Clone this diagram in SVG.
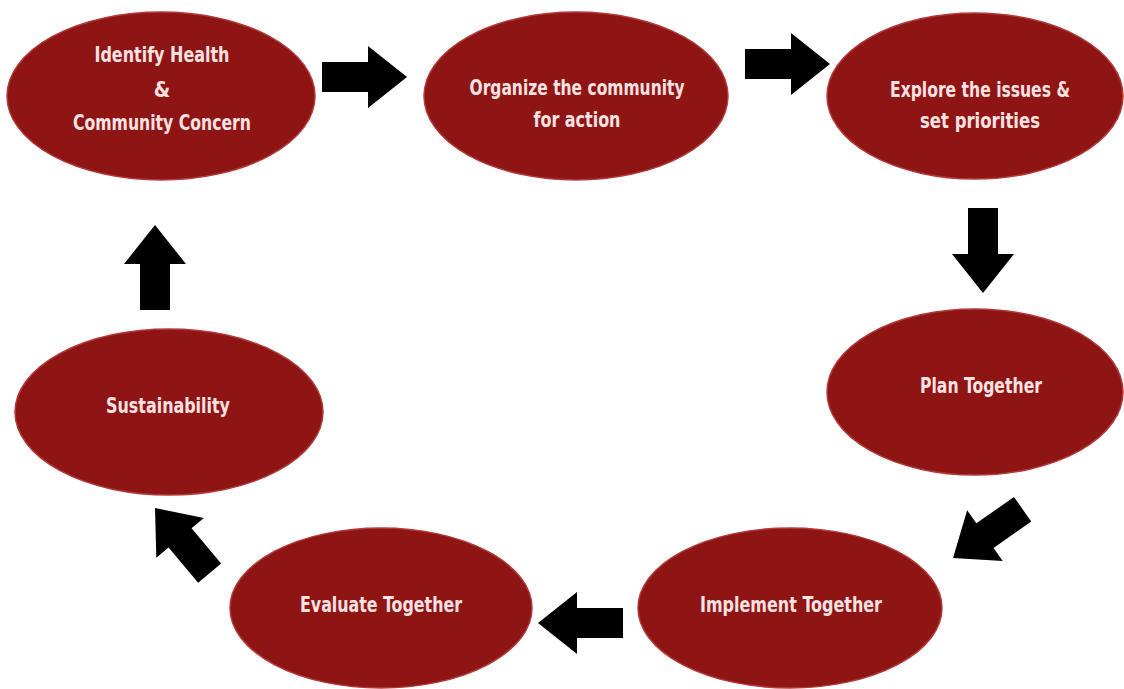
<svg xmlns="http://www.w3.org/2000/svg" xmlns:xlink="http://www.w3.org/1999/xlink" width="1124" height="689" viewBox="0 0 1124 689">
  <style>
    .node { fill: #8f1515; stroke: #b23a3a; stroke-width: 1.5; }
    .lbl { font-family: "DejaVu Sans Condensed", "DejaVu Sans", sans-serif; font-weight: bold; font-size: 21px; fill: #fbe2e2; text-anchor: middle; }
    .arr { fill: #000000; }
  </style>
  <defs>
    <path id="arrow" d="M0,0 L-39,-31 L-39,-15 L-85,-15 L-85,15 L-39,15 L-39,31 Z"/>
  </defs>
  <rect width="1124" height="689" fill="#ffffff"/>

  <g id="connectors" class="arr">
    <use xlink:href="#arrow" href="#arrow" transform="translate(407,77)"/>
    <use xlink:href="#arrow" href="#arrow" transform="translate(830,64)"/>
    <use xlink:href="#arrow" href="#arrow" transform="translate(983,293) rotate(90)"/>
    <use xlink:href="#arrow" href="#arrow" transform="translate(953,558) rotate(145)"/>
    <use xlink:href="#arrow" href="#arrow" transform="translate(538,623) rotate(180)"/>
    <use xlink:href="#arrow" href="#arrow" transform="translate(155,508) rotate(230)"/>
    <use xlink:href="#arrow" href="#arrow" transform="translate(155,225) rotate(-90)"/>
  </g>

  <g id="node-identify">
    <ellipse class="node" cx="161" cy="96" rx="154" ry="84"/>
    <text class="lbl" x="162" y="62" textLength="135" lengthAdjust="spacingAndGlyphs">Identify Health</text>
    <text class="lbl" x="162" y="97">&amp;</text>
    <text class="lbl" x="162" y="130" textLength="178" lengthAdjust="spacingAndGlyphs">Community Concern</text>
  </g>

  <g id="node-organize">
    <ellipse class="node" cx="576" cy="96" rx="152" ry="84"/>
    <text class="lbl" x="577" y="95" textLength="215" lengthAdjust="spacingAndGlyphs">Organize the community</text>
    <text class="lbl" x="577" y="127" textLength="87" lengthAdjust="spacingAndGlyphs">for action</text>
  </g>

  <g id="node-explore">
    <ellipse class="node" cx="975" cy="96" rx="148" ry="83"/>
    <text class="lbl" x="980" y="97" textLength="180" lengthAdjust="spacingAndGlyphs">Explore the issues &amp;</text>
    <text class="lbl" x="980" y="128" textLength="120" lengthAdjust="spacingAndGlyphs">set priorities</text>
  </g>

  <g id="node-plan">
    <ellipse class="node" cx="975" cy="392" rx="148" ry="83"/>
    <text class="lbl" x="981" y="393" textLength="122" lengthAdjust="spacingAndGlyphs">Plan Together</text>
  </g>

  <g id="node-implement">
    <ellipse class="node" cx="790" cy="608" rx="152" ry="80"/>
    <text class="lbl" x="791" y="612" textLength="182" lengthAdjust="spacingAndGlyphs">Implement Together</text>
  </g>

  <g id="node-evaluate">
    <ellipse class="node" cx="381" cy="608" rx="151" ry="80"/>
    <text class="lbl" x="381" y="612" textLength="162" lengthAdjust="spacingAndGlyphs">Evaluate Together</text>
  </g>

  <g id="node-sustainability">
    <ellipse class="node" cx="169" cy="412" rx="154" ry="83"/>
    <text class="lbl" x="168" y="413" textLength="124" lengthAdjust="spacingAndGlyphs">Sustainability</text>
  </g>
</svg>
